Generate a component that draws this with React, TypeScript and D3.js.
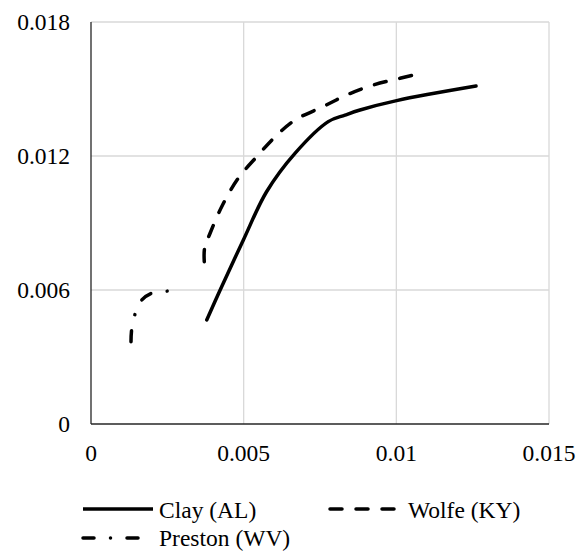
import React from "react";
import * as d3 from "d3";

const clayX = [0.00379, 0.00423, 0.00499, 0.00575, 0.00668, 0.00777, 0.00832, 0.00881, 0.01001, 0.01261];
const clayY = [0.00466, 0.006, 0.00824, 0.0104, 0.01212, 0.01354, 0.01383, 0.01406, 0.01448, 0.01513];

const wolfeX = [0.00371, 0.00372, 0.0039, 0.00428, 0.00482, 0.00543, 0.00603, 0.00668, 0.0076, 0.00837, 0.00925, 0.01012, 0.0109];
const wolfeY = [0.00727, 0.00787, 0.00854, 0.00973, 0.011, 0.01197, 0.01286, 0.01361, 0.01421, 0.01473, 0.01518, 0.01548, 0.01573];

const prestonX = [0.00131, 0.00133, 0.00144, 0.00164, 0.00197, 0.0025];
const prestonY = [0.00368, 0.00421, 0.00491, 0.00552, 0.00585, 0.00595];

const xTicks = [0, 0.005, 0.01, 0.015];
const xTickLabels = ["0", "0.005", "0.01", "0.015"];
const yTicks = [0, 0.006, 0.012, 0.018];
const yTickLabels = ["0", "0.006", "0.012", "0.018"];

const seriesNames = ["Clay (AL)", "Wolfe (KY)", "Preston (WV)"];

const FONT = '"Liberation Serif", "Times New Roman", Times, serif';
const FS = 23.5;
const textStyle = { fontFamily: FONT, fontSize: FS + "px" };

export default function App() {
  const x = d3.scaleLinear().domain([0, 0.015]).range([91, 549]);
  const y = d3.scaleLinear().domain([0, 0.018]).range([424, 22]);
  const line = d3
    .line<[number, number]>()
    .x((d) => x(d[0]))
    .y((d) => y(d[1]))
    .curve(d3.curveCatmullRom.alpha(0.5));

  const zip = (a: number[], b: number[]) => a.map((v, i) => [v, b[i]] as [number, number]);

  const series = [
    { name: seriesNames[0], data: zip(clayX, clayY), dash: undefined as string | undefined },
    { name: seriesNames[1], data: zip(wolfeX, wolfeY), dash: "12 14" },
    { name: seriesNames[2], data: zip(prestonX, prestonY), dash: "11 16.5 0.01 16.5" },
  ];

  const legend = [
    { s: series[0], lx: 83, ly: 509, tx: 159, ty: 518 },
    { s: series[1], lx: 330, ly: 509, tx: 408, ty: 518 },
    { s: series[2], lx: 83, ly: 538, tx: 159, ty: 546 },
  ];

  return (
    <svg
      width={584}
      height={552}
      style={{ position: "absolute", left: 0, top: 0, background: "#fff" }}
    >
      <rect width={584} height={552} fill="#fff" />
      {xTicks.map((t, i) =>
        i === 0 ? null : (
          <line key={"gx" + i} x1={x(t)} x2={x(t)} y1={y(0)} y2={y(0.018)} stroke="#d9d9d9" strokeWidth={1.3} />
        )
      )}
      {yTicks.map((t, i) =>
        i === 0 ? null : (
          <line key={"gy" + i} x1={x(0)} x2={x(0.015)} y1={y(t)} y2={y(t)} stroke="#d9d9d9" strokeWidth={1.3} />
        )
      )}
      <line x1={x(0)} x2={x(0.015)} y1={y(0)} y2={y(0)} stroke="#262626" strokeWidth={1.3} />
      <line x1={x(0)} x2={x(0)} y1={y(0)} y2={y(0.018)} stroke="#262626" strokeWidth={1.3} />

      {xTicks.map((t, i) => (
        <text key={"xt" + i} x={x(t)} y={461} textAnchor="middle" style={textStyle} fill="#000">
          {xTickLabels[i]}
        </text>
      ))}
      {yTicks.map((t, i) => (
        <text key={"yt" + i} x={70} y={y(t) + 8} textAnchor="end" style={textStyle} fill="#000">
          {yTickLabels[i]}
        </text>
      ))}

      {series.map((s, i) => (
        <path
          key={"s" + i}
          d={line(s.data) || ""}
          fill="none"
          stroke="#000"
          strokeWidth={3.5}
          strokeLinecap="round"
          strokeLinejoin="round"
          strokeDasharray={s.dash}
        />
      ))}

      {legend.map((l, i) => (
        <g key={"lg" + i}>
          <line
            x1={l.lx}
            x2={l.lx + 70}
            y1={l.ly}
            y2={l.ly}
            stroke="#000"
            strokeWidth={3.5}
            strokeLinecap={l.s.dash ? "round" : "butt"}
            strokeDasharray={l.s.dash}
          />
          <text x={l.tx} y={l.ty} style={textStyle} fill="#000">
            {l.s.name}
          </text>
        </g>
      ))}
    </svg>
  );
}
